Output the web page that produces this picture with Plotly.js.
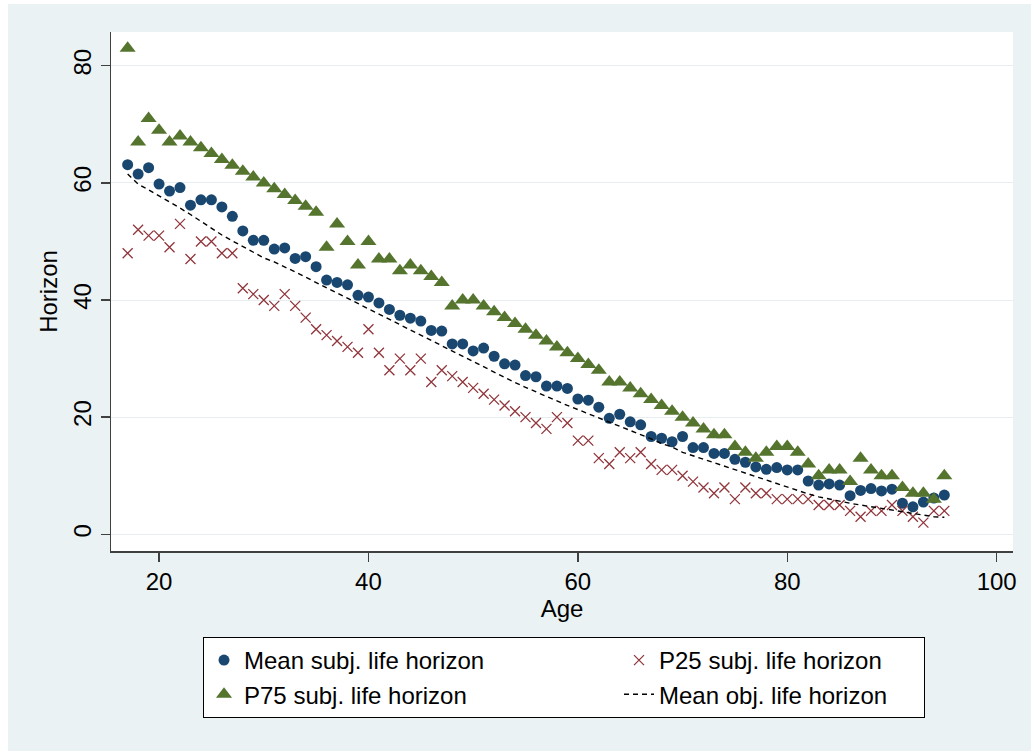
<!DOCTYPE html>
<html>
<head>
<meta charset="utf-8">
<script src="https://cdn.plot.ly/plotly-3.0.1.min.js"></script>
<style>
  html, body { margin: 0; padding: 0; background: #ffffff; }
  #chart { position: absolute; left: 8px; top: 4px; width: 1023px; height: 747px; }
</style>
</head>
<body>
<div id="chart"></div>
<script>
const ages = [17,18,19,20,21,22,23,24,25,26,27,28,29,30,31,32,33,34,35,36,37,38,39,40,41,42,43,44,45,46,47,48,49,50,51,52,53,54,55,56,57,58,59,60,61,62,63,64,65,66,67,68,69,70,71,72,73,74,75,76,77,78,79,80,81,82,83,84,85,86,87,88,89,90,91,92,93,94,95];

const meanSubj = [63.1,61.5,62.6,59.8,58.6,59.2,56.2,57.1,57.1,55.9,
  54.3,51.8,50.2,50.2,48.7,48.9,47.1,47.4,45.7,43.4,
  43.0,42.6,40.8,40.5,39.5,38.4,37.4,36.9,36.4,34.8,
  34.7,32.5,32.5,31.3,31.8,30.4,29.1,28.9,27.1,26.9,
  25.3,25.3,24.9,23.1,22.9,21.7,19.8,20.5,19.2,18.7,
  16.7,16.4,15.8,16.7,14.8,14.8,13.8,13.8,12.8,12.3,
  11.5,11.1,11.4,11.0,11.0,9.1,8.4,8.6,8.4,6.6,
  7.5,7.8,7.4,7.7,5.3,4.7,5.5,6.2,6.7];

const p25Subj = [48,52,51,51,49,53,47,50,50,48,
  48,42,41,40,39,41,39,37,35,34,
  33,32,31,35,31,28,30,28,30,26,
  28,27,26,25,24,23,22,21,20,19,
  18,20,19,16,16,13,12,14,13,14,
  12,11,11,10,9,8,7,8,6,8,
  7,7,6,6,6,6,5,5,5,4,
  3,4,4,5,4,3,2,4,4];

const p75Subj = [83,67,71,69,67,68,67,66,65,64,
  63,62,61,60,59,58,57,56,55,49,
  53,50,46,50,47,47,45,46,45,44,
  43,39,40,40,39,38,37,36,35,34,
  33,32,31,30,29,28,26,26,25,24,
  23,22,21,20,19,18,17,17,15,14,
  13,14,15,15,14,12,10,11,11,9,
  13,11,10,10,8,7,7,6,10];

const meanObj = [61.5,59.8,58.8,57.8,56.8,55.7,54.6,53.4,52.2,51.1,
  50.1,49.1,48.1,47.2,46.5,45.7,44.8,43.9,43.0,42.1,
  41.2,40.3,39.4,38.5,37.6,36.7,35.8,34.9,34.0,33.1,
  32.2,31.3,30.3,29.4,28.5,27.6,26.8,25.9,25.1,24.3,
  23.5,22.8,22.0,21.3,20.6,19.9,19.2,18.5,17.7,17.0,
  16.3,15.5,14.9,14.0,13.4,12.8,12.2,11.6,11.0,10.4,
  9.8,9.2,8.7,8.1,7.5,6.9,6.4,6.0,5.6,5.3,
  5.0,4.7,4.4,4.1,3.8,3.5,3.3,3.0,2.9];

const seriesNames = ["Mean subj. life horizon","P25 subj. life horizon","P75 subj. life horizon","Mean obj. life horizon"];
const xTicks = [20,40,60,80,100];
const yTicks = [0,20,40,60,80];

const FONT = "Liberation Sans, Arial, Helvetica, sans-serif";
const NAVY = "#1a476f", MAROON = "#90353b", GREEN = "#55752f";

const traces = [
  {x: ages, y: meanSubj, name: seriesNames[0], type: "scatter", mode: "markers", legendwidth: 370,
   marker: {symbol: "circle", color: NAVY, size: 11}},
  {x: ages, y: p25Subj, name: seriesNames[1], type: "scatter", mode: "markers", legendwidth: 260,
   marker: {symbol: "x-thin-open", color: MAROON, size: 10, line: {color: MAROON, width: 1.3}}},
  {x: ages, y: p75Subj, name: seriesNames[2], type: "scatter", mode: "markers", legendwidth: 370,
   marker: {symbol: "triangle-up", color: GREEN, size: 14}},
  {x: ages, y: meanObj, name: seriesNames[3], type: "scatter", mode: "lines", legendwidth: 260,
   line: {color: "#000000", width: 1.4, dash: "5px,4px"}}
];

const layout = {
  width: 1023, height: 747,
  paper_bgcolor: "#eaf2f3",
  plot_bgcolor: "#ffffff",
  margin: {l: 103, r: 18, t: 28, b: 200},
  font: {family: FONT, size: 24, color: "#000000"},
  showlegend: true,
  xaxis: {
    range: [15.41, 101.56], tickvals: xTicks, ticktext: xTicks.map(String),
    showgrid: false, zeroline: false,
    showline: true, linecolor: "#404040", linewidth: 1.5, mirror: false,
    ticks: "outside", ticklen: 9, tickwidth: 1.5, tickcolor: "#404040",
    tickfont: {family: FONT, size: 24, color: "#000000"},
    title: {text: "Age", font: {family: FONT, size: 24, color: "#000000"}, standoff: 3}
  },
  yaxis: {
    range: [-2.85, 85.76], tickvals: yTicks, ticktext: yTicks.map(String),
    showgrid: true, gridcolor: "#e6eef1", gridwidth: 1, zeroline: false,
    showline: true, linecolor: "#404040", linewidth: 1.5, mirror: false,
    ticks: "outside", ticklen: 9, tickwidth: 1.5, tickcolor: "#404040",
    tickangle: -90,
    tickfont: {family: FONT, size: 24, color: "#000000"},
    title: {text: "Horizon", font: {family: FONT, size: 24, color: "#000000"}, standoff: 4}
  },
  legend: {
    orientation: "h",
    x: 0.102, xanchor: "left",
    y: -0.1657, yanchor: "top",
    bgcolor: "#ffffff", bordercolor: "#000000", borderwidth: 1,
    entrywidthmode: "pixels",
    font: {family: FONT, size: 24, color: "#000000"},
    traceorder: "normal"
  }
};

Plotly.newPlot("chart", traces, layout, {displayModeBar: false, staticPlot: true});
</script>
</body>
</html>
